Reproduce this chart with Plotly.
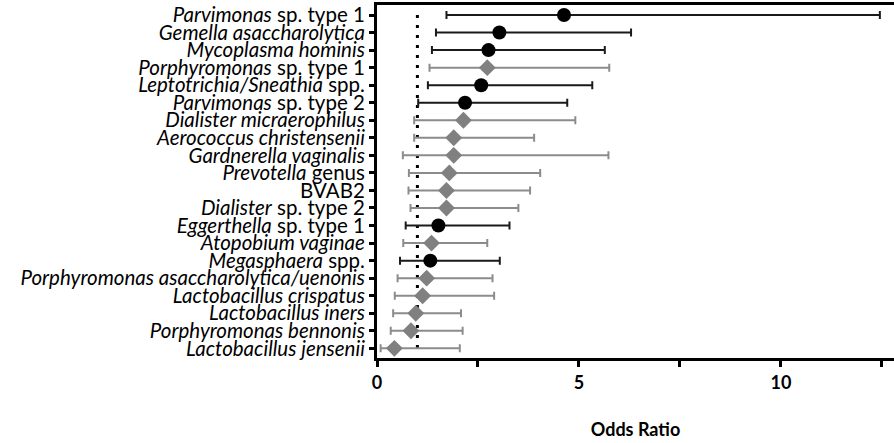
import plotly.graph_objects as go

labels = [
    "<i>Parvimonas</i> sp. type 1",
    "<i>Gemella asaccharolytica</i>",
    "<i>Mycoplasma hominis</i>",
    "<i>Porphyromonas</i> sp. type 1",
    "<i>Leptotrichia/Sneathia</i> spp.",
    "<i>Parvimonas</i> sp. type 2",
    "<i>Dialister micraerophilus</i>",
    "<i>Aerococcus christensenii</i>",
    "<i>Gardnerella vaginalis</i>",
    "<i>Prevotella</i> genus",
    "BVAB2",
    "<i>Dialister</i> sp. type 2",
    "<i>Eggerthella</i> sp. type 1",
    "<i>Atopobium vaginae</i>",
    "<i>Megasphaera</i> spp.",
    "<i>Porphyromonas asaccharolytica/uenonis</i>",
    "<i>Lactobacillus crispatus</i>",
    "<i>Lactobacillus iners</i>",
    "<i>Porphyromonas bennonis</i>",
    "<i>Lactobacillus jensenii</i>",
]
odds = [4.63, 3.03, 2.76, 2.73, 2.58, 2.18, 2.14, 1.90, 1.90, 1.79,
        1.72, 1.72, 1.52, 1.35, 1.32, 1.23, 1.13, 0.96, 0.84, 0.43]
lower = [1.72, 1.46, 1.36, 1.30, 1.26, 1.02, 0.92, 0.92, 0.64, 0.79,
         0.78, 0.83, 0.71, 0.65, 0.57, 0.51, 0.44, 0.40, 0.34, 0.09]
upper = [12.45, 6.29, 5.64, 5.75, 5.33, 4.71, 4.91, 3.89, 5.73, 4.04,
         3.79, 3.50, 3.28, 2.73, 3.04, 2.86, 2.90, 2.08, 2.12, 2.05]
significant = [True, True, True, False, True, True, False, False, False, False,
               False, False, True, False, True, False, False, False, False, False]
ref_line = [1, 1]
x_ticks = [0, 2.5, 5, 7.5, 10, 12.5]
x_ticktext = ["0", "", "5", "", "10", ""]

FONT = "Lato"
fig = go.Figure()

# reference line at OR = 1
fig.add_trace(go.Scatter(
    x=ref_line, y=[labels[0], labels[-1]], mode="lines",
    line=dict(color="black", width=3, dash="3px,7px"),
    hoverinfo="skip", showlegend=False))

def add_group(flag, color, ecolor, symbol, size):
    idx = [i for i, s in enumerate(significant) if s == flag]
    fig.add_trace(go.Scatter(
        x=[odds[i] for i in idx],
        y=[labels[i] for i in idx],
        mode="markers",
        marker=dict(color=color, symbol=symbol, size=size, line=dict(width=0)),
        error_x=dict(type="data", symmetric=False,
                     array=[upper[i] - odds[i] for i in idx],
                     arrayminus=[odds[i] - lower[i] for i in idx],
                     color=ecolor, thickness=2, width=4),
        showlegend=False))

add_group(False, "#808080", "#8c8c8c", "diamond", 13)
add_group(True, "black", "#1a1a1a", "circle", 14)

fig.update_yaxes(
    type="category", categoryorder="array", categoryarray=labels[::-1],
    tickmode="array", tickvals=labels, ticktext=labels,
    range=[-0.55, 19.57],
    showline=True, linecolor="black", linewidth=3,
    ticks="outside", ticklen=5, tickwidth=3, tickcolor="black",
    showgrid=False, zeroline=False, automargin=False,
    tickfont=dict(family=FONT, size=20.5, color="black"),
)
fig.update_xaxes(
    range=[0, 12.8],
    tickvals=x_ticks, ticktext=x_ticktext,
    showline=True, linecolor="black", linewidth=3, mirror=True,
    ticks="outside", ticklen=6, tickwidth=3, tickcolor="black",
    showgrid=False, zeroline=False, automargin=False,
    tickfont=dict(family=FONT, size=18, color="black", weight="bold"),
    title=dict(text="<b>Odds Ratio</b>", font=dict(family=FONT, size=18, color="black"),
               standoff=32),
)
fig.update_layout(
    width=894, height=443,
    margin=dict(l=377, r=0, t=5, b=85, autoexpand=False),
    plot_bgcolor="white", paper_bgcolor="white",
    font=dict(family=FONT),
)
fig.write_html("out.html", config={"displayModeBar": False},
               post_script="document.body.style.margin='0px';")
